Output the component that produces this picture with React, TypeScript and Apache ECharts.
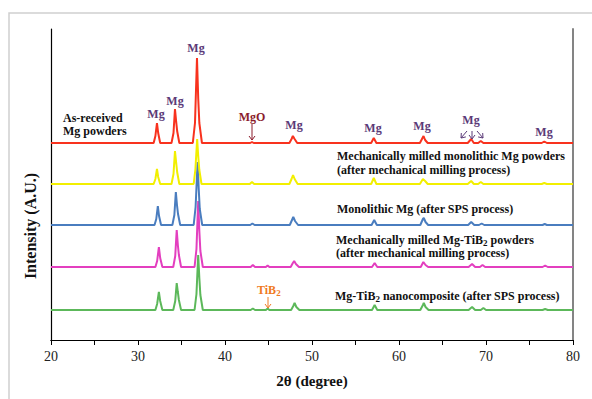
import React, { useEffect, useRef } from "react";
import * as echarts from "echarts";

// 2θ (degree) vs intensity (arbitrary units), each trace
const asReceivedMg: number[][] = [
  [20, 0], [31.8, 0], [32.0, 7], [32.18, 20], [32.32, 10], [32.55, 0],
  [33.85, 0], [34.08, 10], [34.25, 34], [34.38, 22], [34.5, 12], [34.75, 0],
  [36.3, 0], [36.55, 20], [36.78, 85], [36.92, 45], [37.05, 20], [37.35, 0],
  [42.9, 0], [43.1, 1], [43.3, 0],
  [47.4, 0], [47.65, 4], [47.8, 7], [48.0, 4], [48.3, 0],
  [56.8, 0], [57.1, 5], [57.4, 0],
  [62.4, 0], [62.7, 5], [62.82, 7], [63.0, 3], [63.3, 0],
  [67.9, 0], [68.3, 4], [68.6, 0],
  [69.1, 0], [69.4, 2], [69.7, 0],
  [76.4, 0], [76.7, 1.5], [77.0, 0], [80, 0],
];
const milledMg: number[][] = [
  [20, 0], [31.8, 0], [32.0, 5], [32.18, 15], [32.32, 7], [32.55, 0],
  [33.85, 0], [34.08, 10], [34.25, 33], [34.38, 22], [34.5, 12], [34.75, 0],
  [36.4, 0], [36.6, 15], [36.8, 45], [36.92, 28], [37.05, 14], [37.3, 0],
  [42.85, 0], [43.1, 2], [43.35, 0],
  [47.4, 0], [47.65, 5], [47.82, 9], [48.0, 5], [48.35, 0],
  [56.8, 0], [57.1, 6], [57.4, 0],
  [62.4, 0], [62.75, 5], [63.0, 3], [63.3, 0],
  [67.9, 0], [68.3, 3], [68.6, 0],
  [69.1, 0], [69.4, 2], [69.7, 0],
  [76.4, 0], [76.7, 1], [77.0, 0], [80, 0],
];
const monolithicMgSPS: number[][] = [
  [20, 0], [31.9, 0], [32.1, 6], [32.28, 19], [32.42, 9], [32.65, 0],
  [33.95, 0], [34.18, 10], [34.35, 33], [34.48, 20], [34.6, 11], [34.85, 0],
  [36.4, 0], [36.62, 18], [36.85, 63], [36.98, 36], [37.1, 16], [37.38, 0],
  [42.9, 0], [43.15, 1.5], [43.4, 0],
  [47.45, 0], [47.7, 5], [47.85, 8], [48.05, 4], [48.4, 0],
  [56.85, 0], [57.15, 5], [57.45, 0],
  [62.45, 0], [62.75, 6], [62.85, 7], [63.05, 3], [63.35, 0],
  [67.95, 0], [68.3, 3], [68.65, 0],
  [69.2, 0], [69.5, 1.5], [69.8, 0],
  [76.5, 0], [76.75, 1], [77.0, 0], [80, 0],
];
const milledMgTiB2: number[][] = [
  [20, 0], [32.0, 0], [32.2, 6], [32.4, 20], [32.55, 9], [32.8, 0],
  [34.05, 0], [34.28, 11], [34.45, 37], [34.58, 22], [34.7, 12], [34.95, 0],
  [36.5, 0], [36.72, 18], [36.92, 66], [37.05, 36], [37.17, 16], [37.45, 0],
  [42.95, 0], [43.2, 2], [43.45, 0],
  [44.7, 0], [44.9, 1.5], [45.1, 0],
  [47.55, 0], [47.8, 4], [47.95, 6], [48.15, 3], [48.5, 0],
  [56.9, 0], [57.2, 4], [57.5, 0],
  [62.5, 0], [62.8, 5], [63.05, 2], [63.35, 0],
  [68.0, 0], [68.4, 3], [68.75, 0],
  [69.3, 0], [69.6, 2], [69.9, 0],
  [76.5, 0], [76.8, 1.5], [77.1, 0], [80, 0],
];
const nanocompositeSPS: number[][] = [
  [20, 0], [32.0, 0], [32.2, 6], [32.4, 18], [32.55, 9], [32.8, 0],
  [34.05, 0], [34.28, 9], [34.45, 27], [34.58, 18], [34.7, 10], [34.95, 0],
  [36.5, 0], [36.72, 16], [36.92, 55], [37.05, 32], [37.17, 15], [37.45, 0],
  [42.95, 0], [43.2, 1.5], [43.45, 0],
  [44.7, 0], [44.9, 1.5], [45.1, 0],
  [47.6, 0], [47.85, 4], [48.0, 7], [48.2, 3], [48.55, 0],
  [56.9, 0], [57.2, 5], [57.5, 0],
  [62.45, 0], [62.75, 5], [62.85, 7], [63.05, 3], [63.4, 0],
  [68.0, 0], [68.4, 3], [68.75, 0],
  [69.4, 0], [69.7, 2], [70.0, 0],
  [76.5, 0], [76.8, 1], [77.1, 0], [80, 0],
];

// vertical stacking offsets of the traces (same units as intensity)
const traceNames = [
  "Mg-TiB2 nanocomposite (after SPS process)",
  "Mechanically milled Mg-TiB2 powders",
  "Monolithic Mg (after SPS process)",
  "Mechanically milled monolithic Mg powders",
  "As-received Mg powders",
];
const traceData = [nanocompositeSPS, milledMgTiB2, monolithicMgSPS, milledMg, asReceivedMg];
const traceOffsets = [30, 73, 115, 156, 197];
const traceColors = ["#5cb85a", "#e33fbf", "#4a7dbf", "#f2ef00", "#f8321e"];

const xTicks = [20, 30, 40, 50, 60, 70, 80];

const SERIF = "Liberation Serif";
const MG_COLOR = "#5b3a78";

function label(text: string, x: number, y: number, fill: string, size = 12, align = "center") {
  return {
    type: "text",
    x,
    y,
    z: 10,
    style: {
      text,
      fill,
      fontFamily: SERIF,
      fontWeight: "bold",
      fontSize: size,
      textAlign: align,
      textVerticalAlign: "middle",
    },
  };
}

function richLabel(text: string, x: number, y: number, fill: string) {
  return {
    type: "text",
    x,
    y,
    z: 10,
    style: {
      text,
      fill,
      fontFamily: SERIF,
      fontWeight: "bold",
      fontSize: 12,
      align: "left",
      verticalAlign: "middle",
      rich: {
        s: { fontFamily: SERIF, fontWeight: "bold", fontSize: 9, fill, padding: [5, 0, 0, 0] },
      },
    },
  };
}

function arrow(x1: number, y1: number, x2: number, y2: number, color: string) {
  const dx = x2 - x1;
  const dy = y2 - y1;
  const len = Math.sqrt(dx * dx + dy * dy);
  const ux = dx / len;
  const uy = dy / len;
  const h = 4;
  const w = 3;
  const bx = x2 - ux * h;
  const by = y2 - uy * h;
  return [
    { type: "line", z: 10, shape: { x1, y1, x2, y2 }, style: { stroke: color, lineWidth: 1 } },
    {
      type: "polyline",
      z: 10,
      shape: { points: [[bx - uy * w, by + ux * w], [x2, y2], [bx + uy * w, by - ux * w]] },
      style: { stroke: color, lineWidth: 1, fill: "none" },
    },
  ];
}

export default function App() {
  const ref = useRef<HTMLDivElement>(null);
  useEffect(() => {
    if (!ref.current) return;
    const chart = echarts.init(ref.current, undefined, { renderer: "svg" });
    const series = traceData.map((d, i) => ({
      name: traceNames[i],
      type: "line",
      data: d.map((p) => [p[0], p[1] + traceOffsets[i]]),
      showSymbol: false,
      symbol: "none",
      smooth: false,
      lineStyle: { color: traceColors[i], width: 2 },
      itemStyle: { color: traceColors[i] },
      z: 2 + i,
    }));
    const graphic: any[] = [
      {
        type: "rect",
        z: 0,
        shape: { x: 9, y: 13, width: 620, height: 420 },
        style: { fill: "none", stroke: "#cfcfcf", lineWidth: 1.5 },
      },
      {
        type: "text",
        x: 30,
        y: 226,
        rotation: Math.PI / 2,
        style: {
          text: "Intensity (A.U.)",
          fill: "#111",
          fontFamily: SERIF,
          fontWeight: "bold",
          fontSize: 16,
          textAlign: "center",
          textVerticalAlign: "middle",
        },
      },
      label("Mg", 156, 114, MG_COLOR),
      label("Mg", 175, 101, MG_COLOR),
      label("Mg", 196, 48, MG_COLOR),
      label("MgO", 252, 117, "#8b1c2c"),
      ...arrow(252, 124, 252, 140, "#8b1c2c"),
      label("Mg", 294, 125, MG_COLOR),
      label("Mg", 373, 128, MG_COLOR),
      label("Mg", 422, 126, MG_COLOR),
      label("Mg", 471, 120, MG_COLOR),
      ...arrow(467, 131, 461, 138, MG_COLOR),
      ...arrow(472, 131, 472, 139, MG_COLOR),
      ...arrow(477, 131, 483, 138, MG_COLOR),
      label("Mg", 544, 132, MG_COLOR),
      richLabel("TiB{s|2}", 257, 290, "#f07a22"),
      ...arrow(268, 297, 268, 308, "#f07a22"),
      label("As-received", 63, 118, "#111", 12, "left"),
      label("Mg powders", 63, 131, "#111", 12, "left"),
      label("Mechanically milled monolithic Mg powders", 337, 156, "#111", 12, "left"),
      label("(after mechanical milling process)", 337, 170, "#111", 12, "left"),
      label("Monolithic Mg (after SPS process)", 337, 209, "#111", 12, "left"),
      richLabel("Mechanically milled Mg-TiB{s|2} powders", 336, 240, "#111"),
      label("(after mechanical milling process)", 336, 253, "#111", 12, "left"),
      richLabel("Mg-TiB{s|2} nanocomposite (after SPS process)", 335, 296, "#111"),
    ];
    chart.setOption({
      animation: false,
      grid: { left: 51, right: 19, top: 29, bottom: 59, containLabel: false },
      xAxis: [
        {
          type: "value",
          min: 20,
          max: 80,
          interval: 5,
          position: "bottom",
          name: "2θ (degree)",
          nameLocation: "middle",
          nameGap: 33,
          nameTextStyle: { fontFamily: SERIF, fontWeight: "bold", fontSize: 15, color: "#111" },
          axisLine: { show: true, lineStyle: { color: "#000", width: 1.2 } },
          axisTick: { show: true, length: 5, inside: false, lineStyle: { color: "#000" } },
          axisLabel: {
            margin: 9,
            fontFamily: SERIF,
            fontSize: 14,
            color: "#222",
            formatter: (v: number) => (xTicks.indexOf(v) >= 0 ? String(v) : ""),
          },
          splitLine: { show: false },
        },
        {
          type: "value",
          min: 20,
          max: 80,
          position: "top",
          axisLine: { show: true, lineStyle: { color: "#000", width: 1.2 } },
          axisTick: { show: false },
          axisLabel: { show: false },
          splitLine: { show: false },
        },
      ],
      yAxis: [
        {
          type: "value",
          min: 0,
          max: 311,
          position: "left",
          axisLine: { show: true, lineStyle: { color: "#000", width: 1.2 } },
          axisTick: { show: false },
          axisLabel: { show: false },
          splitLine: { show: false },
        },
        {
          type: "value",
          min: 0,
          max: 311,
          position: "right",
          axisLine: { show: true, lineStyle: { color: "#777", width: 1.8 } },
          axisTick: { show: false },
          axisLabel: { show: false },
          splitLine: { show: false },
        },
      ],
      series,
      graphic,
    });
    return () => chart.dispose();
  }, []);
  return (
    <div
      ref={ref}
      style={{ position: "fixed", left: 0, top: 0, width: 592, height: 399, background: "#fff" }}
    />
  );
}
